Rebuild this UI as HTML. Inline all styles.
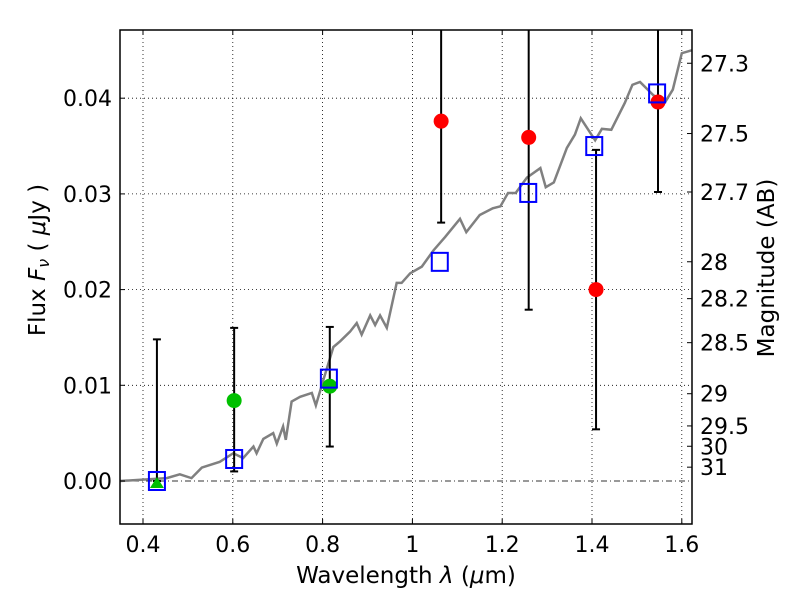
<!DOCTYPE html>
<html><head><meta charset="utf-8"><style>body{margin:0;background:#fff}svg{display:block;font-family:"DejaVu Sans","Liberation Sans",sans-serif}</style></head>
<body>
<svg id="chart" width="800" height="600"></svg>
<script>
const xTicks=[0.4,0.6,0.8,1.0,1.2,1.4,1.6];
const xTickLabels=["0.4","0.6","0.8","1","1.2","1.4","1.6"];
const yTicks=[0,0.01,0.02,0.03,0.04];
const yTickLabels=["0.00","0.01","0.02","0.03","0.04"];
const magTicks=[27.3,27.5,27.7,28,28.2,28.5,29,29.5,30,31];
const magTickLabels=["27.3","27.5","27.7","28","28.2","28.5","29","29.5","30","31"];
const specX=[0.349,0.453,0.482,0.508,0.531,0.571,0.601,0.623,0.646,0.653,0.668,0.690,0.698,0.712,0.718,0.731,0.75,0.776,0.785,0.802,0.824,0.839,0.861,0.876,0.887,0.906,0.917,0.928,0.943,0.965,0.976,0.995,1.021,1.047,1.073,1.106,1.12,1.15,1.179,1.196,1.213,1.23,1.255,1.285,1.297,1.315,1.344,1.362,1.375,1.407,1.422,1.443,1.473,1.49,1.507,1.537,1.563,1.580,1.6,1.622];
const specY=[0,0.0003,0.0007,0.0003,0.0014,0.002,0.0029,0.0024,0.0036,0.0029,0.0044,0.005,0.0039,0.0057,0.0043,0.0083,0.0088,0.0092,0.0079,0.0106,0.014,0.0146,0.0156,0.0165,0.0153,0.0173,0.0163,0.0173,0.016,0.0207,0.0207,0.0217,0.0224,0.0241,0.0255,0.0274,0.026,0.0278,0.0285,0.0287,0.0301,0.0301,0.0317,0.0327,0.0307,0.0312,0.0348,0.0362,0.0379,0.0356,0.0368,0.0367,0.0395,0.0414,0.0417,0.0403,0.0396,0.0409,0.0447,0.045];
const sqX=[0.431,0.603,0.814,1.061,1.258,1.405,1.545];
const sqY=[0.0,0.0023,0.0107,0.0229,0.0301,0.0350,0.0405];
const redX=[1.064,1.259,1.409,1.547];
const redY=[0.0376,0.0359,0.0200,0.0396];
const greenX=[0.603,0.816];
const greenY=[0.0084,0.0099];
const errX=[0.431,0.603,0.816,1.064,1.259,1.409,1.547];
const errLo=[0.0,0.001,0.0036,0.027,0.0179,0.0054,0.0302];
const errHi=[0.0148,0.016,0.0161,0.06,0.06,0.0346,0.06];

const L=120,R=692,T=30,B=524;
const X=v=>143+(v-0.4)*449;
const Y=v=>481-v*9570;
const M=m=>Y(Math.pow(10,(23.9-m)/2.5));
const svg=document.getElementById('chart');
const NS='http://www.w3.org/2000/svg';
function mk(t,a,p){const e=document.createElementNS(NS,t);for(const k in a)e.setAttribute(k,a[k]);(p||svg).appendChild(e);return e;}
const defs=mk('defs',{});const cp=mk('clipPath',{id:'c'},defs);mk('rect',{x:L,y:T,width:R-L,height:B-T},cp);
const plot=mk('g',{'clip-path':'url(#c)'});


xTicks.forEach((v,i)=>{
 const g=mk('line',{x1:X(v),x2:X(v),y1:T,y2:B,stroke:'#000','stroke-dasharray':'1,3','stroke-width':0.8},plot);
 
 mk('line',{x1:X(v),x2:X(v),y1:B,y2:B-5,stroke:'#000'});mk('line',{x1:X(v),x2:X(v),y1:T,y2:T+5,stroke:'#000'});
 const t=mk('text',{x:X(v),y:B+28,'text-anchor':'middle','font-size':22});t.textContent=xTickLabels[i];
 
});
yTicks.forEach((v,i)=>{
 if(v!==0){const g=mk('line',{x1:L,x2:R,y1:Y(v),y2:Y(v),stroke:'#000','stroke-dasharray':'1,3','stroke-width':0.8},plot);
 }
 mk('line',{x1:L,x2:L+5,y1:Y(v),y2:Y(v),stroke:'#000'});
 const t=mk('text',{x:L-8,y:Y(v)+8,'text-anchor':'end','font-size':22});t.textContent=yTickLabels[i];
 
});
const zl=mk('line',{x1:L,x2:R,y1:Y(0),y2:Y(0),stroke:'#333','stroke-dasharray':'6,3,1,3','stroke-width':1},plot);

magTicks.forEach((m,i)=>{
 mk('line',{x1:R,x2:R-5,y1:M(m),y2:M(m),stroke:'#000'});
 const t=mk('text',{x:R+8,y:M(m)+8,'font-size':22});t.textContent=magTickLabels[i];
 
});
const sp=mk('polyline',{points:specX.map((x,i)=>X(x)+','+Y(specY[i])).join(' '),fill:'none',stroke:'#808080','stroke-width':2.5},plot);

errX.forEach((x,i)=>{
 const e=mk('line',{x1:X(x),x2:X(x),y1:Y(errLo[i]),y2:Y(errHi[i]),stroke:'#000','stroke-width':2},plot);
 
 mk('line',{x1:X(x)-4,x2:X(x)+4,y1:Y(errLo[i]),y2:Y(errLo[i]),stroke:'#000','stroke-width':2},plot);
 if(errHi[i]<0.047)mk('line',{x1:X(x)-4,x2:X(x)+4,y1:Y(errHi[i]),y2:Y(errHi[i]),stroke:'#000','stroke-width':2},plot);
});
const tri=mk('polygon',{points:`${X(0.431)-7},${Y(0)+7} ${X(0.431)+7},${Y(0)+7} ${X(0.431)},${Y(0)-4}`,fill:'#00c000'},plot);

greenX.forEach((x,i)=>{const c=mk('circle',{cx:X(x),cy:Y(greenY[i]),r:7.5,fill:'#00c000'},plot);
 });
redX.forEach((x,i)=>{const c=mk('circle',{cx:X(x),cy:Y(redY[i]),r:7.5,fill:'#f00'},plot);
 });
sqX.forEach((x,i)=>{const s=mk('rect',{x:X(x)-8,y:Y(sqY[i])-9,width:16,height:18,fill:'none',stroke:'#00f','stroke-width':2},plot);
 });
const fr=mk('rect',{x:L,y:T,width:R-L,height:B-T,fill:'none',stroke:'#000','stroke-width':1.5});

const xt=mk('text',{x:406,y:583,'text-anchor':'middle','font-size':23});xt.innerHTML='Wavelength  <tspan font-style="italic">λ</tspan> (<tspan font-style="italic">μ</tspan>m)';

const yt=mk('text',{transform:'translate(45,260) rotate(-90)','text-anchor':'middle','font-size':23});yt.innerHTML='Flux  <tspan font-style="italic">F<tspan font-size="16" dy="4">ν</tspan></tspan><tspan dy="-4">  (  </tspan><tspan font-style="italic">μ</tspan>Jy )';

const rt=mk('text',{transform:'translate(774,268) rotate(-90)','text-anchor':'middle','font-size':23});rt.textContent='Magnitude (AB)';

</script>
</body></html>
